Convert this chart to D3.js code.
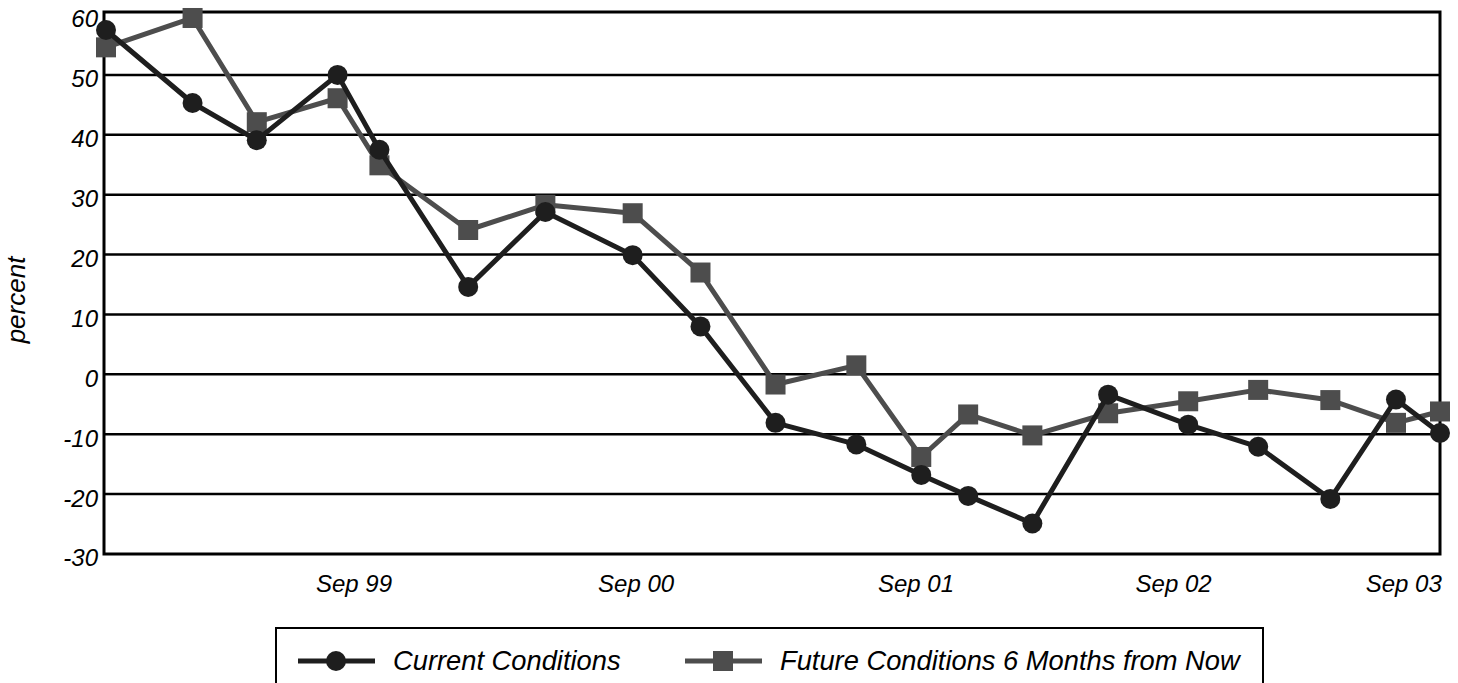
<!DOCTYPE html>
<html>
<head>
<meta charset="utf-8">
<script src="https://cdn.jsdelivr.net/npm/d3@7"></script>
<style>
  body { margin: 0; background: #fff; }
  svg text { font-family: "Liberation Sans", Arial, sans-serif; font-style: italic; fill: #000; }
</style>
</head>
<body>
<div id="chart"></div>
<script>
// survey dates (irregular spacing)
var surveyDates = ["1998-09-02", "1998-12-31", "1999-03-30", "1999-07-20", "1999-09-16",
  "2000-01-17", "2000-05-03", "2000-09-01", "2000-12-04", "2001-03-18",
  "2001-07-08", "2001-10-06", "2001-12-10", "2002-03-09", "2002-06-22",
  "2002-10-11", "2003-01-16", "2003-04-26", "2003-07-26", "2003-09-25"];

var currentConditions = [57.5, 45.3, 39.1, 50.0, 37.5, 14.6, 27.1, 19.9, 8.0, -8.1,
  -11.7, -16.8, -20.3, -24.9, -3.4, -8.4, -12.1, -20.8, -4.2, -9.8];

var futureConditions = [54.6, 59.5, 42.1, 46.1, 34.9, 24.1, 28.3, 26.9, 17.0, -1.7,
  1.5, -13.8, -6.7, -10.2, -6.5, -4.5, -2.6, -4.3, -8.1, -6.2];

var yTicks = [-30, -20, -10, 0, 10, 20, 30, 40, 50, 60];
var xTickDates = ["1999-08-11", "2000-09-05", "2001-09-28", "2002-09-20", "2003-08-05"];
var xTickLabels = ["Sep 99", "Sep 00", "Sep 01", "Sep 02", "Sep 03"];
var seriesNames = ["Current Conditions", "Future Conditions 6 Months from Now"];

var W = 1458, H = 683;
var plotLeft = 104, plotRight = 1440, plotTop = 12, plotBottom = 554;
var parse = d3.timeParse("%Y-%m-%d");
var dates = surveyDates.map(parse);

var svg = d3.select("#chart").append("svg")
  .attr("width", W).attr("height", H);

var x = d3.scaleTime()
  .domain([dates[0], dates[dates.length - 1]])
  .range([plotLeft + 2, plotRight]);

var y = d3.scaleLinear()
  .domain([-30, 60.5])
  .range([plotBottom, plotTop]);

// gridlines
svg.append("g")
  .selectAll("line")
  .data(yTicks.filter(function(d) { return d > -30 && d < 60; }))
  .enter().append("line")
  .attr("x1", plotLeft).attr("x2", plotRight)
  .attr("y1", function(d) { return y(d); })
  .attr("y2", function(d) { return y(d); })
  .attr("stroke", "#000").attr("stroke-width", 2.5);

// frame
svg.append("rect")
  .attr("x", plotLeft).attr("y", plotTop)
  .attr("width", plotRight - plotLeft).attr("height", plotBottom - plotTop)
  .attr("fill", "none").attr("stroke", "#000").attr("stroke-width", 3);

// y labels
svg.append("g")
  .selectAll("text")
  .data(yTicks)
  .enter().append("text")
  .attr("x", 98)
  .attr("y", function(d) { return y(d) + 4; })
  .attr("dy", "0.35em")
  .attr("text-anchor", "end")
  .style("font-size", "24px")
  .text(function(d) { return d; });

svg.append("text")
  .attr("transform", "translate(25,300) rotate(-90)")
  .attr("text-anchor", "middle")
  .style("font-size", "26px")
  .text("percent");

// x labels
var xAxis = d3.axisBottom(x)
  .tickValues(xTickDates.map(parse))
  .tickSize(0)
  .tickPadding(21)
  .tickFormat(function(d, i) { return xTickLabels[i]; });

var gx = svg.append("g")
  .attr("transform", "translate(0," + plotBottom + ")")
  .call(xAxis);
gx.select(".domain").remove();
gx.selectAll("text")
  .style("font-size", "24px")
  .style("font-family", "'Liberation Sans', Arial, sans-serif")
  .style("font-style", "italic")
  .attr("fill", "#000");

var series = [
  { name: seriesNames[1], values: futureConditions, color: "#4d4d4d", shape: "square" },
  { name: seriesNames[0], values: currentConditions, color: "#1e1e1e", shape: "circle" }
];

var line = d3.line()
  .x(function(d, i) { return x(dates[i]); })
  .y(function(d) { return y(d); });

series.forEach(function(s) {
  svg.append("path")
    .datum(s.values)
    .attr("d", line)
    .attr("fill", "none")
    .attr("stroke", s.color)
    .attr("stroke-width", 5)
    .attr("stroke-linejoin", "round");

  var g = svg.append("g");
  if (s.shape === "circle") {
    g.selectAll("circle").data(s.values).enter().append("circle")
      .attr("cx", function(d, i) { return x(dates[i]); })
      .attr("cy", function(d) { return y(d); })
      .attr("r", 10)
      .attr("fill", s.color);
  } else {
    g.selectAll("rect").data(s.values).enter().append("rect")
      .attr("x", function(d, i) { return x(dates[i]) - 10; })
      .attr("y", function(d) { return y(d) - 10; })
      .attr("width", 20).attr("height", 20)
      .attr("fill", s.color);
  }
});

// legend
var legend = svg.append("g");
legend.append("rect")
  .attr("x", 276).attr("y", 628)
  .attr("width", 987).attr("height", 80)
  .attr("fill", "#fff").attr("stroke", "#000").attr("stroke-width", 2);

var items = [
  { label: seriesNames[0], color: "#1e1e1e", shape: "circle", x0: 298 },
  { label: seriesNames[1], color: "#4d4d4d", shape: "square", x0: 685 }
];
items.forEach(function(it) {
  var ly = 661;
  legend.append("line")
    .attr("x1", it.x0).attr("x2", it.x0 + 77)
    .attr("y1", ly).attr("y2", ly)
    .attr("stroke", it.color).attr("stroke-width", 5);
  if (it.shape === "circle") {
    legend.append("circle").attr("cx", it.x0 + 38).attr("cy", ly).attr("r", 10).attr("fill", it.color);
  } else {
    legend.append("rect").attr("x", it.x0 + 28).attr("y", ly - 10)
      .attr("width", 20).attr("height", 20).attr("fill", it.color);
  }
  legend.append("text")
    .attr("x", it.x0 + 95).attr("y", ly + 9)
    .style("font-size", "27.3px")
    .text(it.label);
});
</script>
</body>
</html>
